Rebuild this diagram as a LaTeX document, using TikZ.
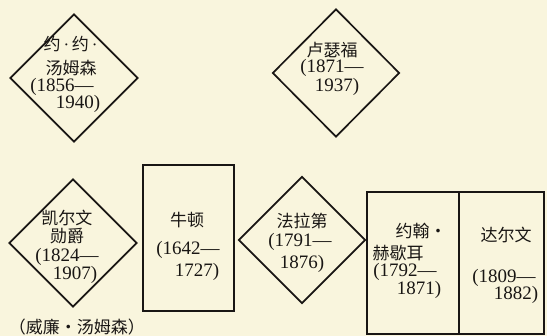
\documentclass[tikz,border=0pt]{standalone}
\usepackage{fontspec}
\setmainfont{Liberation Serif}
\newfontfamily\cjk{Noto Sans CJK SC}
\usetikzlibrary{shapes.geometric}
\definecolor{paper}{RGB}{249,245,221}
\definecolor{ink}{RGB}{25,22,20}
\tikzset{
  dia/.style={diamond, draw=ink, line width=1.7pt, inner sep=0pt, minimum width=128pt, minimum height=128pt},
  boxx/.style={rectangle, draw=ink, line width=1.7pt, inner sep=0pt},
  zh/.style={inner sep=0pt, text=ink, font=\cjk\fontsize{17}{17}\selectfont},
  num/.style={inner sep=0pt, text=ink, font=\fontsize{19}{19}\selectfont},
}
\newcommand{\ldot}{{\rmfamily\fontsize{17}{17}\selectfont\,·\,}}
\begin{document}
\begin{tikzpicture}[x=1pt,y=-1pt]
\fill[paper] (0,0) rectangle (547,336);
\useasboundingbox (0,0) rectangle (547,336);
% diamonds
\node[dia] (jj) at (74,78) {};
\node[dia, minimum width=127pt] (lu) at (336,73) {};
\node[dia] (ke) at (73,243) {};
\node[dia, minimum width=127pt, minimum height=127pt] (fa) at (302,240) {};
% boxes
\node[boxx, minimum width=91pt, minimum height=146pt] (nw) at (188.5,238) {};
\node[boxx, minimum width=92pt, minimum height=142pt] (he) at (413,263) {};
\node[boxx, minimum width=85pt, minimum height=142pt] (da) at (501.5,263) {};
% J.J. Thomson
\node[zh] (jj1) at (72,44) {约\ldot 约\ldot};
\node[zh] (jj2) at (71,68) {汤姆森};
\node[num] (jj3) at (62,87) {(1856—};
\node[num] (jj4) at (78,104) {1940)};
% Rutherford
\node[zh] (lu1) at (332,50) {卢瑟福};
\node[num] (lu2) at (332,68) {(1871—};
\node[num] (lu3) at (337,87) {1937)};
% Kelvin
\node[zh] (ke1) at (67,218) {凯尔文};
\node[zh] (ke2) at (67,236) {勋爵};
\node[num] (ke3) at (67,257) {(1824—};
\node[num] (ke4) at (75,275) {1907)};
\node[zh] (ke5) at (77,327) {（威廉·汤姆森）};
% Newton
\node[zh] (nw1) at (187,220) {牛顿};
\node[num] (nw2) at (188,250) {(1642—};
\node[num] (nw3) at (197,272) {1727)};
% Faraday
\node[zh] (fa1) at (302,221) {法拉第};
\node[num] (fa2) at (300,242) {(1791—};
\node[num] (fa3) at (302,264) {1876)};
% Herschel
\node[zh] (he1) at (421,231) {约翰·};
\node[zh] (he2) at (398,253) {赫歇耳};
\node[num] (he3) at (405,272) {(1792—};
\node[num] (he4) at (419,290) {1871)};
% Darwin
\node[zh] (da1) at (506,235) {达尔文};
\node[num] (da2) at (504,278) {(1809—};
\node[num] (da3) at (516,295) {1882)};
\end{tikzpicture}
\end{document}
